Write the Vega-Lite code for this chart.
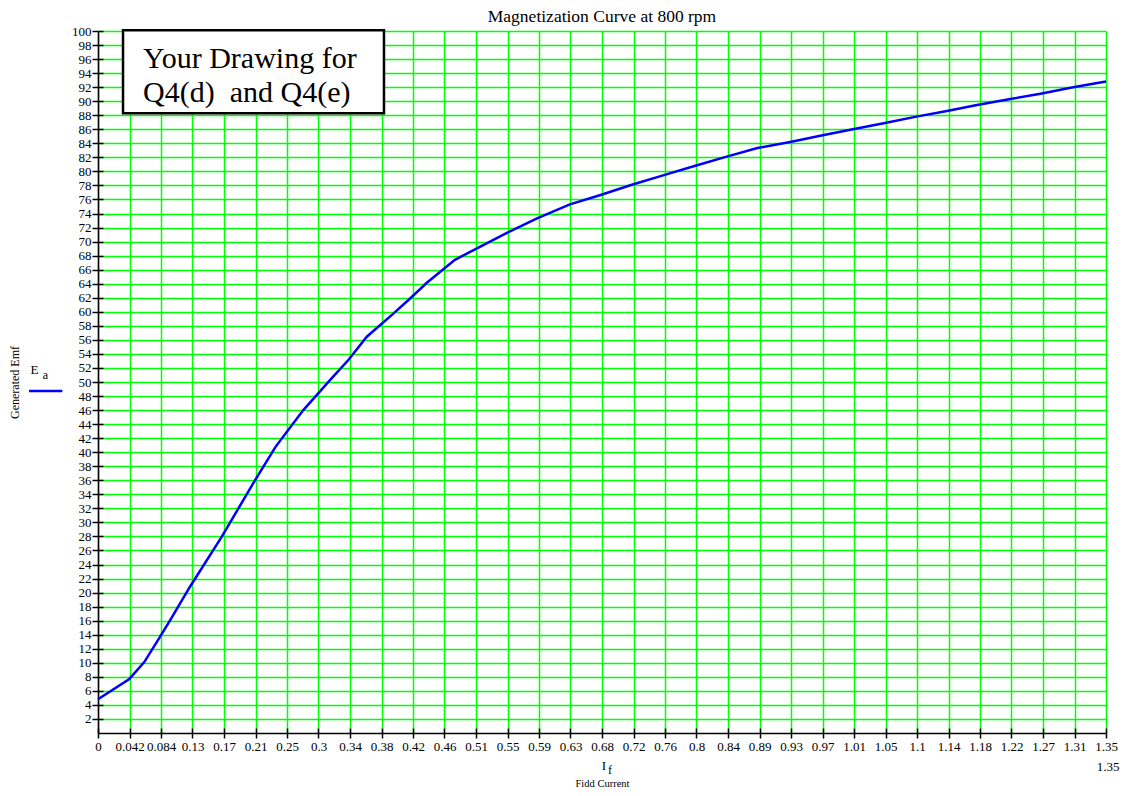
{
  "$schema": "https://vega.github.io/schema/vega-lite/v6.json",
  "width": 1008,
  "height": 702,
  "autosize": {"type": "none"},
  "padding": {"left": 98, "top": 31, "right": 16, "bottom": 63},
  "background": "white",
  "title": {"text": "Magnetization Curve at 800 rpm", "font": "Liberation Serif", "fontSize": 17.5, "fontWeight": "normal", "color": "black", "offset": 0},
  "config": {"view": {"stroke": null}, "font": "Liberation Serif"},
  "layer": [
    {
      "data": {"values": [
        {"If": 0, "Ea": 4.8},
        {"If": 0.042, "Ea": 7.7},
        {"If": 0.062, "Ea": 10.1},
        {"If": 0.083, "Ea": 13.7},
        {"If": 0.0973, "Ea": 16.2},
        {"If": 0.123, "Ea": 20.8},
        {"If": 0.166, "Ea": 28.0},
        {"If": 0.208, "Ea": 35.6},
        {"If": 0.238, "Ea": 40.8},
        {"If": 0.275, "Ea": 46.0},
        {"If": 0.311, "Ea": 50.3},
        {"If": 0.335, "Ea": 53.1},
        {"If": 0.36, "Ea": 56.45},
        {"If": 0.394, "Ea": 59.6},
        {"If": 0.418, "Ea": 61.9},
        {"If": 0.44, "Ea": 64.1},
        {"If": 0.478, "Ea": 67.4},
        {"If": 0.503, "Ea": 68.8},
        {"If": 0.547, "Ea": 71.2},
        {"If": 0.588, "Ea": 73.3},
        {"If": 0.632, "Ea": 75.3},
        {"If": 0.672, "Ea": 76.6},
        {"If": 0.715, "Ea": 78.1},
        {"If": 0.759, "Ea": 79.5},
        {"If": 0.8, "Ea": 80.8},
        {"If": 0.842, "Ea": 82.1},
        {"If": 0.882, "Ea": 83.3},
        {"If": 0.927, "Ea": 84.2},
        {"If": 0.969, "Ea": 85.1},
        {"If": 1.011, "Ea": 86.0},
        {"If": 1.054, "Ea": 86.9},
        {"If": 1.096, "Ea": 87.8},
        {"If": 1.137, "Ea": 88.6},
        {"If": 1.179, "Ea": 89.5},
        {"If": 1.222, "Ea": 90.3},
        {"If": 1.264, "Ea": 91.1},
        {"If": 1.306, "Ea": 92.0},
        {"If": 1.35, "Ea": 92.8}
      ]},
      "mark": {"type": "line", "color": "#0000ff", "strokeWidth": 2.5},
      "encoding": {
        "x": {
          "field": "If", "type": "quantitative",
          "scale": {"domain": [0, 1.35], "nice": false, "zero": false},
          "axis": {
            "orient": "bottom",
            "values": [0, 0.0421875, 0.084375, 0.1265625, 0.16875, 0.2109375, 0.253125, 0.2953125, 0.3375, 0.3796875, 0.421875, 0.4640625, 0.50625, 0.5484375, 0.590625, 0.6328125, 0.675, 0.7171875, 0.759375, 0.8015625, 0.84375, 0.8859375, 0.928125, 0.9703125, 1.0125, 1.0546875, 1.096875, 1.1390625, 1.18125, 1.2234375, 1.265625, 1.3078125, 1.35],
            "labelExpr": "datum.value >= 1 ? format(datum.value, '.3~r') : format(datum.value, '.2~r')",
            "labelOverlap": false,
            "labelBound": false,
            "labelFlush": false,
            "labelFont": "Liberation Serif",
            "labelFontSize": 13,
            "labelColor": "black",
            "labelPadding": 2,
            "tickSize": 5,
            "tickColor": "black",
            "tickWidth": 1.5,
            "domainColor": "black",
            "domainWidth": 1.5,
            "grid": true,
            "gridColor": "#00ff00",
            "gridWidth": 1.5,
            "gridOpacity": 1,
            "title": "Fidd Current",
            "titleFont": "Liberation Serif",
            "titleFontSize": 10.5,
            "titleFontWeight": "normal",
            "titleColor": "black",
            "titlePadding": 25
          }
        },
        "y": {
          "field": "Ea", "type": "quantitative",
          "scale": {"domain": [0, 100], "nice": false, "zero": true},
          "axis": {
            "orient": "left",
            "values": [2, 4, 6, 8, 10, 12, 14, 16, 18, 20, 22, 24, 26, 28, 30, 32, 34, 36, 38, 40, 42, 44, 46, 48, 50, 52, 54, 56, 58, 60, 62, 64, 66, 68, 70, 72, 74, 76, 78, 80, 82, 84, 86, 88, 90, 92, 94, 96, 98, 100],
            "labelOverlap": false,
            "labelBound": false,
            "labelFlush": false,
            "labelFont": "Liberation Serif",
            "labelFontSize": 13,
            "labelColor": "black",
            "labelPadding": 1,
            "tickSize": 6,
            "tickColor": "black",
            "tickWidth": 1.5,
            "domainColor": "black",
            "domainWidth": 1.5,
            "grid": true,
            "gridColor": "#00ff00",
            "gridWidth": 1.5,
            "gridOpacity": 1,
            "title": "Generated Emf",
            "titleFont": "Liberation Serif",
            "titleFontSize": 12,
            "titleFontWeight": "normal",
            "titleColor": "black",
            "titlePadding": 50
          }
        }
      }
    },
    {
      "data": {"values": [{}]},
      "mark": {"type": "rect", "fill": "white", "stroke": "black", "strokeWidth": 2.5},
      "encoding": {
        "x": {
          "datum": 0.0335, "type": "quantitative",
          "axis": {
            "orient": "bottom",
            "values": [0, 0.0421875, 0.084375, 0.1265625, 0.16875, 0.2109375, 0.253125, 0.2953125, 0.3375, 0.3796875, 0.421875, 0.4640625, 0.50625, 0.5484375, 0.590625, 0.6328125, 0.675, 0.7171875, 0.759375, 0.8015625, 0.84375, 0.8859375, 0.928125, 0.9703125, 1.0125, 1.0546875, 1.096875, 1.1390625, 1.18125, 1.2234375, 1.265625, 1.3078125, 1.35],
            "labels": false, "domain": false, "grid": false, "title": null,
            "tickSize": -5, "tickColor": "black", "tickWidth": 1.5
          }
        },
        "x2": {"datum": 0.383},
        "y": {
          "datum": 100.1, "type": "quantitative",
          "axis": {
            "orient": "left",
            "values": [2, 4, 6, 8, 10, 12, 14, 16, 18, 20, 22, 24, 26, 28, 30, 32, 34, 36, 38, 40, 42, 44, 46, 48, 50, 52, 54, 56, 58, 60, 62, 64, 66, 68, 70, 72, 74, 76, 78, 80, 82, 84, 86, 88, 90, 92, 94, 96, 98, 100],
            "labels": false, "domain": false, "grid": false, "title": null,
            "tickSize": -5, "tickColor": "black", "tickWidth": 1.5
          }
        },
        "y2": {"datum": 88.3}
      }
    },
    {
      "data": {"values": [{}]},
      "mark": {"type": "text", "align": "left", "baseline": "alphabetic", "font": "Liberation Serif", "fontSize": 30, "lineHeight": 34, "color": "black", "text": ["Your Drawing for", "Q4(d)\u00a0 and Q4(e)"]},
      "encoding": {
        "x": {"datum": 0.0603, "type": "quantitative", "axis": null},
        "y": {"datum": 94.7, "type": "quantitative", "axis": null}
      }
    },
    {
      "data": {"values": [{}]},
      "mark": {"type": "text", "align": "center", "baseline": "middle", "font": "Liberation Serif", "fontSize": 13, "color": "black", "text": "E"},
      "encoding": {
        "x": {"datum": -0.085, "type": "quantitative", "axis": null},
        "y": {"datum": 51.78, "type": "quantitative", "axis": null}
      }
    },
    {
      "data": {"values": [{}]},
      "mark": {"type": "text", "align": "center", "baseline": "middle", "font": "Liberation Serif", "fontSize": 12, "color": "black", "text": "a"},
      "encoding": {
        "x": {"datum": -0.0703, "type": "quantitative", "axis": null},
        "y": {"datum": 51.0, "type": "quantitative", "axis": null}
      }
    },
    {
      "data": {"values": [{}]},
      "mark": {"type": "rule", "color": "#0000ff", "strokeWidth": 2.5},
      "encoding": {
        "x": {"datum": -0.0924, "type": "quantitative", "axis": null},
        "x2": {"datum": -0.0478},
        "y": {"datum": 48.72, "type": "quantitative", "axis": null}
      }
    },
    {
      "data": {"values": [{}]},
      "mark": {"type": "text", "align": "center", "baseline": "middle", "font": "Liberation Serif", "fontSize": 13, "color": "black", "text": "I"},
      "encoding": {
        "x": {"datum": 0.6777, "type": "quantitative", "axis": null},
        "y": {"datum": -4.7, "type": "quantitative", "axis": null}
      }
    },
    {
      "data": {"values": [{}]},
      "mark": {"type": "text", "align": "center", "baseline": "middle", "font": "Liberation Serif", "fontSize": 12, "color": "black", "text": "f"},
      "encoding": {
        "x": {"datum": 0.6857, "type": "quantitative", "axis": null},
        "y": {"datum": -5.34, "type": "quantitative", "axis": null}
      }
    },
    {
      "data": {"values": [{}]},
      "mark": {"type": "text", "align": "center", "baseline": "middle", "font": "Liberation Serif", "fontSize": 13, "color": "black", "text": "1.35"},
      "encoding": {
        "x": {"datum": 1.3527, "type": "quantitative", "axis": null},
        "y": {"datum": -4.91, "type": "quantitative", "axis": null}
      }
    }
  ],
  "resolve": {"axis": {"x": "independent", "y": "independent"}}
}
